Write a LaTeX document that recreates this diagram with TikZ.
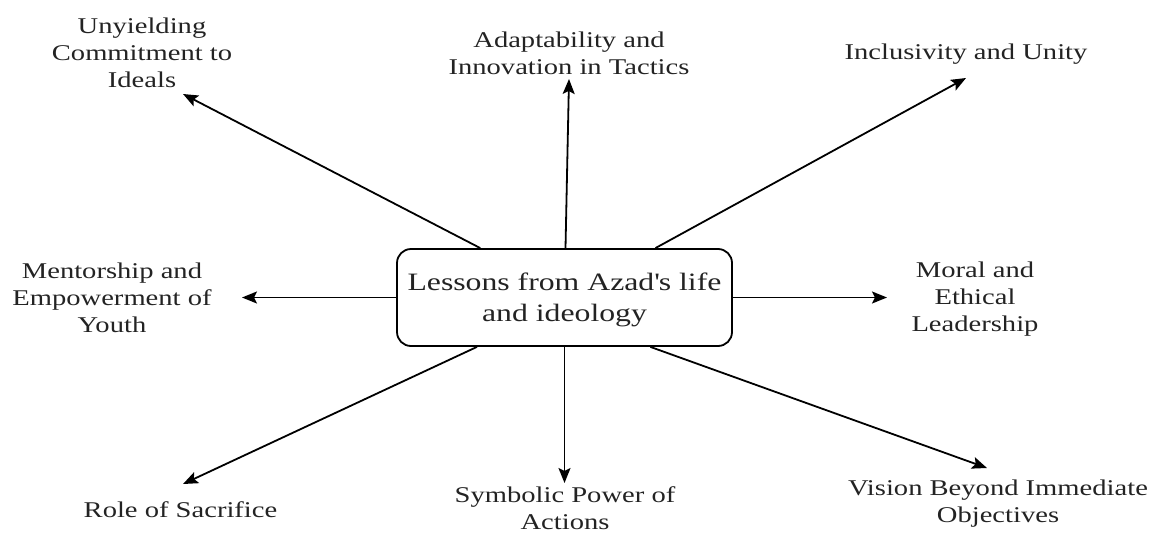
\documentclass[tikz,border=0pt]{standalone}
\usepackage{fontspec}
\setmainfont{Liberation Serif}[FakeStretch=1.27]
\usepackage{xcolor}
\usetikzlibrary{arrows.meta,positioning,calc}
\definecolor{InkGray}{RGB}{35,35,35}

\begin{document}
\begin{tikzpicture}[x=1pt,y=-1pt,
  lesson/.style={font=\fontsize{22.5}{27}\selectfont,align=center,text=InkGray,inner sep=0pt,anchor=base},
  link/.style={line width=1.8pt,-{Stealth[length=15pt,width=12pt,inset=3pt]}}]
\useasboundingbox(0,0)rectangle(1152,533);
\node[draw,line width=1.8pt,rounded corners=14pt,minimum width=335pt,minimum height=97pt,
  align=center,text=InkGray,font=\fontsize{25}{31}\selectfont](core)at(564.5,297.5)
  {\rule{0pt}{23pt}Lessons from Azad\textquotesingle s life\\and ideology};
% labels, placed at the baseline of their last line
\node[lesson](ideals)at(142,87){Unyielding\\Commitment to\\Ideals};
\node[lesson](tactics)at(569,74){Adaptability and\\Innovation in Tactics};
\node[lesson](unity)at(966,59){Inclusivity and Unity};
\node[lesson](youth)at(112,332){Mentorship and\\Empowerment of\\Youth};
\node[lesson](ethics)at(975,331){Moral and\\Ethical\\Leadership};
\node[lesson](sacrifice)at(180.5,517){Role of Sacrifice};
\node[lesson](actions)at(565,529){Symbolic Power of\\Actions};
\node[lesson](vision)at(998,522){Vision Beyond Immediate\\Objectives};
% where the arrows leave the box
\coordinate(out-ideals)at($(core.north west)!0.25!(core.north east)$);
\coordinate(out-tactics)at($(core.north)+(1,0)$);
\coordinate(out-unity)at($(core.north west)!0.77!(core.north east)$);
\coordinate(out-youth)at(core.west);
\coordinate(out-ethics)at(core.east);
\coordinate(out-sacrifice)at($(core.south west)!0.24!(core.south east)$);
\coordinate(out-actions)at(core.south);
\coordinate(out-vision)at($(core.south west)!0.755!(core.south east)$);
% arrow tips
\foreach \name/\x/\y in {ideals/183/94,tactics/569/79,unity/966/78,youth/242/297.5,
  ethics/887/297.5,sacrifice/183/484,actions/564.5/483,vision/987/468}{
  \coordinate(tip-\name)at(\x,\y);
  \draw[link](out-\name)--(tip-\name);
}
\end{tikzpicture}
\end{document}
